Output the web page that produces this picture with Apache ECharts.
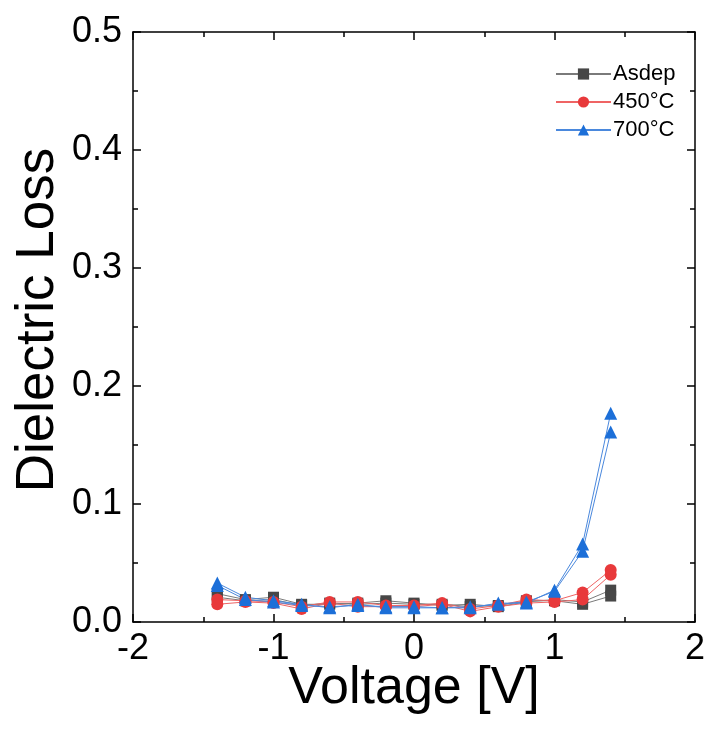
<!DOCTYPE html>
<html>
<head>
<meta charset="utf-8">
<script src="https://cdn.jsdelivr.net/npm/echarts@6/dist/echarts.min.js"></script>
<style>html,body{margin:0;padding:0;background:#fff}#c{width:711px;height:747px}</style>
</head>
<body>
<div id="c"></div>
<script>
const voltage = [-1.4,-1.2,-1.0,-0.8,-0.6,-0.4,-0.2,0,0.2,0.4,0.6,0.8,1.0,1.2,1.4];
const asdepFwd = [0.024,0.019,0.021,0.015,0.015,0.016,0.018,0.016,0.014,0.015,0.013,0.017,0.019,0.017,0.027];
const asdepBwd = [0.021,0.018,0.019,0.014,0.016,0.015,0.016,0.015,0.015,0.013,0.014,0.018,0.018,0.015,0.022];
const t450Fwd = [0.019,0.018,0.017,0.013,0.017,0.017,0.014,0.014,0.016,0.011,0.014,0.019,0.018,0.025,0.044];
const t450Bwd = [0.015,0.017,0.016,0.011,0.016,0.013,0.013,0.013,0.015,0.009,0.013,0.016,0.017,0.019,0.040];
const t700Fwd = [0.033,0.021,0.018,0.015,0.012,0.015,0.012,0.012,0.012,0.012,0.016,0.016,0.027,0.066,0.177];
const t700Bwd = [0.031,0.019,0.017,0.014,0.013,0.014,0.013,0.013,0.012,0.013,0.015,0.017,0.026,0.060,0.161];
const seriesNames = ['Asdep','450°C','700°C'];

const FONT = 'Liberation Sans, Arial, sans-serif';
const pairs = ys => voltage.map((x,i)=>[x, ys[i]]);
function mk(name, ys, markColor, lineColor, symbol, size){
  return {
    name, type:'line', data: pairs(ys), symbol, symbolSize:size,
    itemStyle:{color:markColor},
    lineStyle:{color:lineColor, width:1},
    z: 3
  };
}
const chart = echarts.init(document.getElementById('c'), null, {renderer:'canvas'});
const axisCommon = {
  axisLine:{show:true, onZero:false, lineStyle:{color:'#000', width:1.5}},
  axisTick:{show:true, inside:true, length:8, lineStyle:{color:'#000', width:1.5}},
  minorTick:{show:true, splitNumber:2, length:5, lineStyle:{color:'#000', width:1.5}},
  splitLine:{show:false}
};
chart.setOption({
  animation:false,
  backgroundColor:'#fff',
  grid:{left:133, right:16, top:32, bottom:125, containLabel:false},
  legend:{
    orient:'vertical', left:550, top:58, itemGap:6, itemWidth:55, itemHeight:14,
    data: seriesNames,
    textStyle:{fontFamily:FONT, fontSize:22, color:'#000', padding:[0,0,0,-3]}
  },
  xAxis:[
    Object.assign({type:'value', min:-2, max:2, interval:1, position:'bottom',
      name:'Voltage [V]', nameLocation:'middle', nameGap:41, nameMoveOverlap:false,
      nameTextStyle:{fontFamily:FONT, fontSize:52, color:'#000'},
      axisLabel:{fontFamily:FONT, fontSize:36, color:'#000', margin:9}}, axisCommon),
    Object.assign({type:'value', min:-2, max:2, interval:1, position:'top',
      axisLabel:{show:false}}, axisCommon)
  ],
  yAxis:[
    Object.assign({type:'value', min:0, max:0.5, interval:0.1, position:'left',
      name:'Dielectric Loss', nameLocation:'middle', nameGap:68, nameRotate:90, nameMoveOverlap:false,
      nameTextStyle:{fontFamily:FONT, fontSize:53, color:'#000', padding:[0,0,0,14]},
      axisLabel:{fontFamily:FONT, fontSize:36, color:'#000', margin:11, formatter:v=>v.toFixed(1)}}, axisCommon),
    Object.assign({type:'value', min:0, max:0.5, interval:0.1, position:'right',
      axisLabel:{show:false}}, axisCommon)
  ],
  series:[
    mk('Asdep', asdepFwd, '#474747', '#7a7a7a', 'rect', 11),
    mk('Asdep', asdepBwd, '#474747', '#7a7a7a', 'rect', 11),
    mk('450°C', t450Fwd, '#e8393b', '#ef6464', 'circle', 12),
    mk('450°C', t450Bwd, '#e8393b', '#ef6464', 'circle', 12),
    mk('700°C', t700Fwd, '#1c6fd8', '#4a88dd', 'triangle', 13),
    mk('700°C', t700Bwd, '#1c6fd8', '#4a88dd', 'triangle', 13)
  ]
});
</script>
</body>
</html>
